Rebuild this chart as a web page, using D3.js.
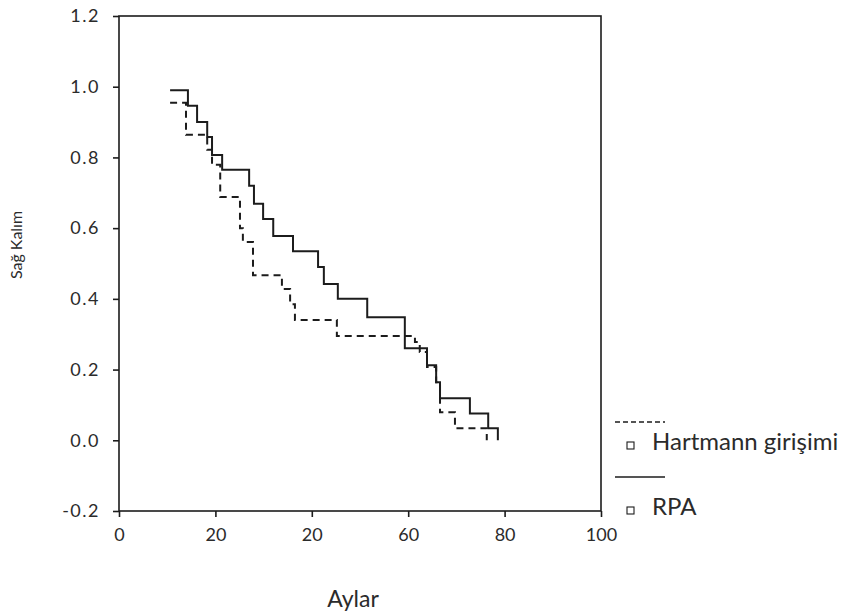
<!DOCTYPE html>
<html>
<head>
<meta charset="utf-8">
<script src="https://cdn.jsdelivr.net/npm/d3@7"></script>
<style>
  body { margin: 0; background: #fff; }
  svg { display: block; font-family: Lato, "Open Sans", sans-serif; }
</style>
</head>
<body>
<svg id="chart"></svg>
<script>
// x tick labels as printed in the source (the 40 is printed as "20")
const xTicks = [0, 20, 40, 60, 80, 100];
const xTickLabels = ["0", "20", "20", "60", "80", "100"];
const yTicks = [-0.2, 0.0, 0.2, 0.4, 0.6, 0.8, 1.0, 1.2];

// RPA (solid): time in months, survival after the step
const rpaTime = [10.6, 14.3, 16.2, 18.3, 19.3, 21.4, 27.0, 28.0, 29.9, 32.0, 36.1, 41.3, 42.5, 45.4, 51.5, 59.3, 63.9, 65.8, 66.6, 72.8, 76.6, 78.6];
const rpaSurv = [0.99, 0.946, 0.90, 0.858, 0.807, 0.765, 0.72, 0.669, 0.626, 0.578, 0.535, 0.49, 0.442, 0.40, 0.348, 0.26, 0.212, 0.164, 0.119, 0.076, 0.034, 0.0];

// Hartmann girişimi (dashed)
const hartTime = [10.6, 13.9, 18.3, 19.3, 21.0, 25.1, 25.7, 27.8, 33.8, 35.5, 36.5, 45.2, 61.4, 62.4, 63.9, 65.8, 66.6, 69.7, 76.3];
const hartSurv = [0.955, 0.864, 0.822, 0.779, 0.688, 0.60, 0.561, 0.467, 0.428, 0.385, 0.34, 0.295, 0.278, 0.25, 0.207, 0.164, 0.079, 0.034, 0.0];

const legendLabels = ["Hartmann girişimi", "RPA"];

let svgWidth = 862, svgHeight = 615;
let svg = d3.select('#chart')
    .attr("width", svgWidth)
    .attr("height", svgHeight);

let x = d3.scaleLinear().domain([0, 100]).range([119, 601]);
let y = d3.scaleLinear().domain([-0.2, 1.2]).range([511, 16]);

const ink = "#1c1c1c";
const textInk = "#2b2b2b";

// frame
svg.append("rect")
    .attr("x", x(0))
    .attr("y", y(1.2))
    .attr("width", x(100) - x(0))
    .attr("height", y(-0.2) - y(1.2))
    .attr("fill", "none")
    .attr("stroke", ink)
    .attr("stroke-width", 1.6);

let xAxis = svg.append("g")
    .attr("transform", "translate(0," + y(-0.2) + ")")
    .call(d3.axisBottom(x)
        .tickValues(xTicks)
        .tickSize(6)
        .tickPadding(11)
        .tickFormat(function (d, i) { return xTickLabels[i]; }));
xAxis.select(".domain").remove();

let yAxis = svg.append("g")
    .attr("transform", "translate(" + x(0) + ",0)")
    .call(d3.axisLeft(y)
        .tickValues(yTicks)
        .tickSize(6)
        .tickPadding(13)
        .tickFormat(function (d) { return d.toFixed(1); }));
yAxis.select(".domain").remove();

svg.selectAll(".tick line").attr("stroke", ink).attr("stroke-width", 1.6);
svg.selectAll(".tick text")
    .attr("fill", textInk)
    .style("font-size", "18px")
    .style("font-family", "Lato, sans-serif");
yAxis.selectAll(".tick text").style("letter-spacing", "1.5px");

// axis titles
svg.append("text")
    .attr("transform", "translate(22,245) rotate(-90)")
    .attr("text-anchor", "middle")
    .attr("fill", textInk)
    .style("font-size", "16px")
    .text("Sağ Kalım");

svg.append("text")
    .attr("x", 353)
    .attr("y", 607)
    .attr("text-anchor", "middle")
    .attr("fill", textInk)
    .style("font-size", "23px")
    .text("Aylar");

// survival step curves
let line = d3.line()
    .x(function (d) { return x(d.t); })
    .y(function (d) { return y(d.s); })
    .curve(d3.curveStepAfter);

let hartData = hartTime.map(function (t, i) { return { t: t, s: hartSurv[i] }; });
let rpaData = rpaTime.map(function (t, i) { return { t: t, s: rpaSurv[i] }; });

svg.append("path")
    .datum(hartData)
    .attr("fill", "none")
    .attr("stroke", ink)
    .attr("stroke-width", 2)
    .attr("stroke-dasharray", "7,5")
    .attr("d", line);

svg.append("path")
    .datum(rpaData)
    .attr("fill", "none")
    .attr("stroke", ink)
    .attr("stroke-width", 2)
    .attr("d", line);

// legend
let legend = svg.append("g");
let legendRows = [
    { label: legendLabels[0], dash: "5,3", lineY: 422, textY: 450 },
    { label: legendLabels[1], dash: null, lineY: 477, textY: 515 }
];
legendRows.forEach(function (r) {
    legend.append("line")
        .attr("x1", 615).attr("x2", 665)
        .attr("y1", r.lineY).attr("y2", r.lineY)
        .attr("stroke", ink)
        .attr("stroke-width", 1.4)
        .attr("stroke-dasharray", r.dash);
    legend.append("rect")
        .attr("x", 627).attr("y", r.textY - 8)
        .attr("width", 7).attr("height", 7)
        .attr("fill", "none")
        .attr("stroke", ink)
        .attr("stroke-width", 1.1);
    legend.append("text")
        .attr("x", 652)
        .attr("y", r.textY)
        .attr("fill", textInk)
        .style("font-size", "24px")
        .text(r.label);
});
</script>
</body>
</html>
